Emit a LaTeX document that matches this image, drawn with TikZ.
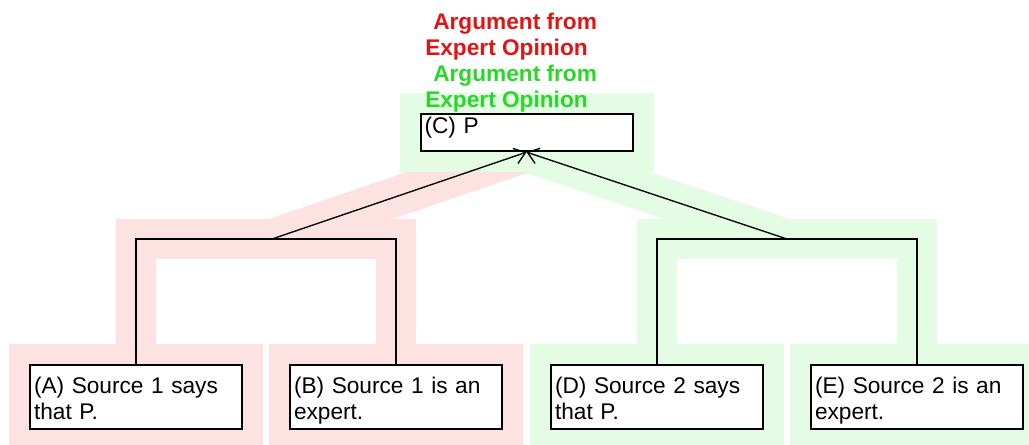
\documentclass[tikz,border=0pt]{standalone}
\usepackage{fontspec}
\setmainfont{Liberation Sans}
\usepackage{xcolor}
\usetikzlibrary{arrows.meta,calc,backgrounds}
\definecolor{argRed}{RGB}{225, 20, 20}
\definecolor{argGreen}{RGB}{40, 215, 40}
\definecolor{redHl}{RGB}{253, 226, 226}
\definecolor{greenHl}{RGB}{228, 252, 228}

\tikzset{
  claim/.style={draw=black, line width=1.5pt, fill=white, rectangle, align=left,
    text width=153pt, inner xsep=3pt, inner ysep=3pt,
    font=\fontsize{17}{19.5}\selectfont},
  twoLine/.style={claim, minimum height=48pt,
    execute at begin node={\rule{0pt}{18.75pt}},
    execute at end node={\rule[-3.75pt]{0pt}{3.75pt}}},
  bracket/.style={draw=black, line width=1.4pt},
  support/.style={draw=black, line width=1pt, -{Straight Barb[length=8pt, width=12pt]}},
  redBand/.style={draw=redHl, line width=30pt},
  greenBand/.style={draw=greenHl, line width=30pt},
  schemeLabel/.style={anchor=north west, inner sep=0pt, align=left,
    font=\bfseries\fontsize{17}{19}\selectfont}
}

\begin{document}
\begin{tikzpicture}[x=0.75pt, y=-0.75pt]
  \useasboundingbox (0,0) rectangle (1029,445);

  % claims
  \node[claim, minimum height=28pt, text height=12pt, text depth=10pt] (C) at (526.5,132.5) {(C) P};
  \node[twoLine] (A) at (136,397) {(A) Source 1 says\\that P.};
  \node[twoLine] (B) at (396,397) {(B) Source 1 is an\\expert.};
  \node[twoLine] (D) at (657,397) {(D) Source 2 says\\that P.};
  \node[twoLine] (E) at (917,397) {(E) Source 2 is an\\expert.};

  % scheme labels
  \node[schemeLabel, text=argRed] (redLabel) at (425,13) {\hspace*{6pt}Argument from\\Expert Opinion};
  \node[schemeLabel, text=argGreen] (greenLabel) at (425,65) {\hspace*{6pt}Argument from\\Expert Opinion};

  % joins
  \coordinate (jA) at (272,239);
  \coordinate (jD) at (787,239);
  \draw[bracket] (A.north) -- (A.north |- jA) -- (B.north |- jA) -- (B.north);
  \draw[bracket] (D.north) -- (D.north |- jD) -- (E.north |- jD) -- (E.north);
  \draw[support] (jA) -- (C.south);
  \draw[support] (jD) -- (C.south);

  % highlights
  \begin{scope}[on background layer]
    \draw[greenBand] (D.north) -- (D.north |- jD) -- (E.north |- jD) -- (E.north);
    \draw[greenBand] (jD) -- (C.south);
    \draw[redBand] (A.north) -- (A.north |- jA) -- (B.north |- jA) -- (B.north);
    \draw[redBand] (jA) -- (C.south);
    \fill[redHl] ($(A.north west)+(-20,-20)$) rectangle ($(A.south east)+(20,20)$);
    \fill[redHl] ($(B.north west)+(-20,-20)$) rectangle ($(B.south east)+(20,20)$);
    \fill[greenHl] ($(D.north west)+(-20,-20)$) rectangle ($(D.south east)+(20,20)$);
    \fill[greenHl] ($(E.north west)+(-20,-20)$) rectangle ($(E.south east)+(20,20)$);
    \fill[greenHl] ($(C.north west)+(-20,-20)$) rectangle ($(C.south east)+(20,20)$);
  \end{scope}
\end{tikzpicture}
\end{document}
